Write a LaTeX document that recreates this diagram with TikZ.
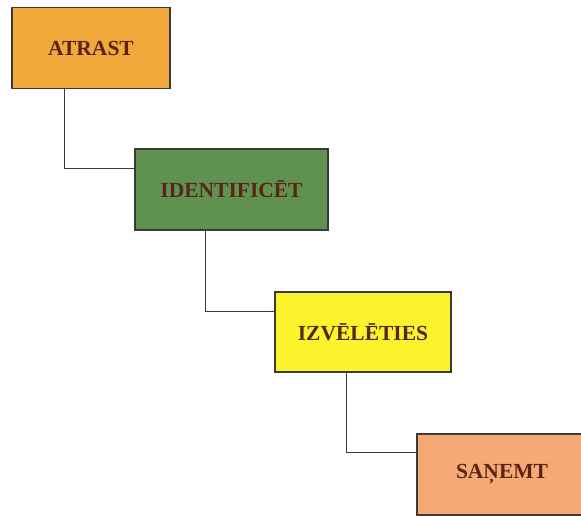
\documentclass[tikz,border=0pt]{standalone}
\usepackage{fontspec}
\setmainfont{Liberation Serif}
\usetikzlibrary{calc}
\definecolor{cOrange}{HTML}{F2A93B}
\definecolor{cGreen}{HTML}{5F9150}
\definecolor{cYellow}{HTML}{FBF42C}
\definecolor{cSalmon}{HTML}{F6A875}
\definecolor{cText}{HTML}{5A2418}
\definecolor{cLine}{HTML}{3A3A3A}
\tikzset{
  stepbox/.style={draw=cLine, line width=1.4pt, rectangle, inner sep=0pt,
    font=\fontsize{21.5}{24}\selectfont\bfseries, text=cText},
  link/.style={draw=cLine, line width=1.2pt}
}
\begin{document}
\begin{tikzpicture}[x=1pt,y=-1pt]
\useasboundingbox[fill=white] (0,0) rectangle (581,516);
\node[stepbox, fill=cOrange, minimum width=158pt, minimum height=81pt] (a) at (91,48) {ATRAST};
\node[stepbox, fill=cGreen, minimum width=193pt, minimum height=81pt] (b) at (231.5,189.5) {IDENTIFICĒT};
\node[stepbox, fill=cYellow, minimum width=176pt, minimum height=80pt] (c) at (363,332) {IZVĒLĒTIES};
\node[stepbox, fill=cSalmon, minimum width=170pt, minimum height=81pt] (d) at (502,474.5) {SAŅEMT};
\draw[link] ($(a.south west)+(53,0)$) |- ($(b.north west)+(0,20)$);
\draw[link] ($(b.south west)+(71,0)$) |- ($(c.north west)+(0,20)$);
\draw[link] ($(c.south west)+(72,0)$) |- ($(d.north west)+(0,19)$);
\end{tikzpicture}
\end{document}
